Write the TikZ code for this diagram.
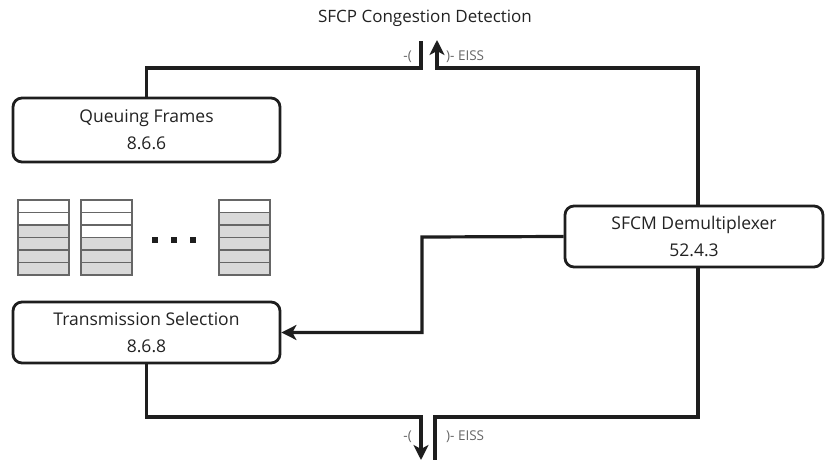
\documentclass[tikz,border=0pt]{standalone}
\usepackage{fontspec}
\setmainfont{Open Sans}
\usetikzlibrary{arrows.meta}
\definecolor{ink}{HTML}{1E1E1E}
\definecolor{txt}{HTML}{222222}
\definecolor{lbl}{HTML}{666666}
\definecolor{cellline}{HTML}{666666}
\definecolor{cellfill}{HTML}{D9D9D9}
\begin{document}
\begin{tikzpicture}[x=1pt,y=-1pt,
  block/.style={draw=ink, line width=2.8pt, rounded corners=9pt, fill=white,
    text=txt, align=center, inner sep=0pt,
    font=\fontsize{17.5}{27}\selectfont},
  wire/.style={draw=ink, line width=3.2pt},
  tip/.style={-{Stealth[length=15pt,width=15pt,inset=4pt]}},
  eiss/.style={text=lbl, inner sep=0pt, font=\fontsize{13.5}{15}\selectfont},
  cell/.style={draw=cellline, line width=1.3pt}]
\useasboundingbox (0,0) rectangle (825,460);

% title
\node[text=txt, inner sep=0pt, font=\fontsize{17}{20}\selectfont] (title) at (425,18) {SFCP Congestion Detection};

% blocks
\node[block, minimum width=267pt, minimum height=64pt] (qf) at (146.5,130) {Queuing Frames\\8.6.6};
\node[block, minimum width=267pt, minimum height=61pt] (ts) at (146.5,332.5) {Transmission Selection\\8.6.8};
\node[block, minimum width=258pt, minimum height=61pt] (dm) at (694,236.5) {SFCM Demultiplexer\\52.4.3};

% bend points and free ends of the service interface
\coordinate (tL) at (421,68);
\coordinate (upL) at (421,41);
\coordinate (tR) at (437,68);
\coordinate (upR) at (437,40);
\coordinate (bL) at (421,417);
\coordinate (dnL) at (421,460);
\coordinate (bR) at (435,417);
\coordinate (dnR) at (435,460);
\coordinate (mid) at (422,237);

% connectors
\draw[wire] (qf.north) |- (tL) -- (upL);
\draw[wire,tip] ([xshift=4pt]dm.north) |- (tR) -- (upR);
\draw[wire,tip] (ts.south) |- (bL) -- (dnL);
\draw[wire] ([xshift=4pt]dm.south) |- (bR) -- (dnR);
\draw[wire,tip] (dm.west) -- (mid) |- (ts.east);

% EISS labels
\node[eiss, anchor=east] (la) at (412,57) {-(};
\node[eiss, anchor=west] (lb) at (446,57) {)- EISS};
\node[eiss, anchor=east] (lc) at (412,437) {-(};
\node[eiss, anchor=west] (ld) at (446,437) {)- EISS};

% frame queues
\foreach \x/\w in {18/2, 81/3, 219/1} {
  \foreach \i in {0,...,5} {
    \pgfmathtruncatemacro{\white}{\i<\w ? 1 : 0}
    \ifnum\white=1
      \path[cell, fill=white] (\x,200+12.5*\i) rectangle ++(51,12.5);
    \else
      \path[cell, fill=cellfill] (\x,200+12.5*\i) rectangle ++(51,12.5);
    \fi
  }
}
\foreach \x in {155,174,193}
  \fill[ink] (\x-2.6,237.4) rectangle ++(5.2,5.2);
\end{tikzpicture}
\end{document}
